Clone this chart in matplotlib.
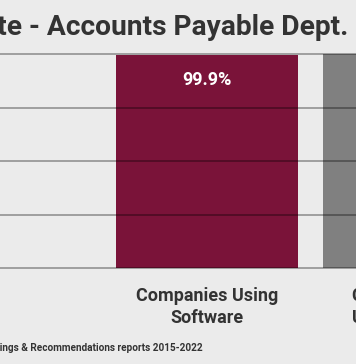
import matplotlib
matplotlib.use("Agg")
import matplotlib.pyplot as plt

# chart data (visible crop of a wider bar chart)
categories = ["Companies Using\nSoftware", "Companies Not\nUsing Software"]
values = [99.9, 100.0]
value_labels = ["99.9%", "100%"]
bar_colors = ["#7a1339", "#808080"]

title = "Accuracy Rate - Accounts Payable Dept."
source = "Source: Audit Findings & Recommendations reports 2015-2022"

BG = "#ebebeb"
TEXT = "#333333"
FONT = ["Roboto", "DejaVu Sans"]

W, H = 356, 364
fig = plt.figure(figsize=(W / 100, H / 100), dpi=100, facecolor=BG)

# axes wider than the figure so the picture is a crop
px_left, px_right = -300, 700
y0_px, y100_px = 268, 54.5
ax = fig.add_axes([px_left / W, (H - y0_px) / H,
                   (px_right - px_left) / W, (y0_px - y100_px) / H])
ax.set_facecolor(BG)

unit = 207.0          # pixels between bar centres
first_center = 207.0
ax.set_xlim((px_left - first_center) / unit, (px_right - first_center) / unit)
ax.set_ylim(0, 100)

xs = list(range(len(categories)))
ax.bar(xs, values, width=182 / unit, color=bar_colors, zorder=2)

for y in [0, 25, 50, 75, 100]:
    ax.axhline(y, color="black", alpha=0.38, lw=1.2, zorder=3, clip_on=False)

for x, v, lab in zip(xs, values, value_labels):
    ax.annotate(lab, (x, v), xytext=(0, -18.5), textcoords="offset points",
                ha="center", va="center", color="white", fontsize=13,
                fontweight="bold", family=FONT, zorder=4)

ax.set_xticks(xs)
ax.set_xticklabels(categories, fontsize=13, fontweight="bold", color=TEXT,
                   family=FONT, linespacing=1.28)
ax.tick_params(axis="x", length=0, pad=13.5)
ax.set_yticks([])
for s in ax.spines.values():
    s.set_visible(False)

fig.text(348 / W, (H - 35) / H, title, ha="right", va="baseline",
         fontsize=20.25, fontweight="bold", color=TEXT, family=FONT)
fig.text(203 / W, (H - 351) / H, source, ha="right", va="baseline",
         fontsize=7.2, fontweight="bold", color=TEXT, family=FONT)

fig.savefig("out.png", dpi=100, facecolor=BG)
